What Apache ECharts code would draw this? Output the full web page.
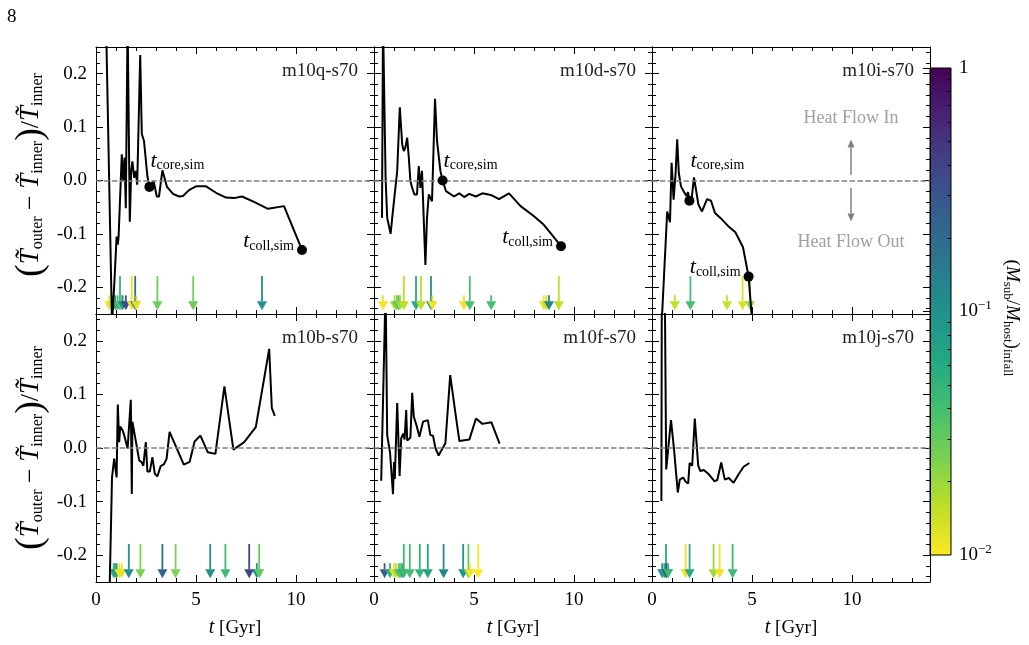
<!DOCTYPE html>
<html>
<head>
<meta charset="utf-8">
<script src="https://cdn.jsdelivr.net/npm/echarts@6.0.0/dist/echarts.min.js"></script>
<style>
  html, body { margin: 0; padding: 0; background: #fff; }
  #chart { width: 1029px; height: 645px; }
</style>
</head>
<body>
<div id="chart"></div>
<script>
// ---- data ----
// (T_outer - T_inner)/T_inner vs time [Gyr] for each halo
const m10qT = [0.50, 0.80, 0.92, 1.03, 1.09, 1.13, 1.29, 1.36, 1.43, 1.49, 1.58, 1.63, 1.69, 1.76, 1.82, 1.91, 1.99, 2.06, 2.21, 2.29, 2.40, 2.57, 2.67, 2.88, 3.04, 3.15, 3.32, 3.55, 3.85, 4.15, 4.35, 4.65, 5.00, 5.50, 6.00, 6.50, 6.90, 7.30, 7.90, 8.60, 9.40, 10.30];
const m10qY = [0.30, -0.27, -0.19, -0.105, -0.12, -0.105, 0.049, -0.001, 0.043, -0.052, 0.30, 0.30, -0.077, 0.018, 0.036, 0.005, 0.018, -0.008, 0.235, 0.087, 0.074, 0.008, -0.012, -0.001, -0.030, -0.030, 0.019, -0.012, -0.025, -0.030, -0.029, -0.018, -0.011, -0.011, -0.023, -0.032, -0.033, -0.030, -0.040, -0.053, -0.048, -0.130];
const m10dT = [0.40, 0.45, 0.58, 0.66, 0.83, 0.91, 1.00, 1.16, 1.29, 1.41, 1.49, 1.57, 1.66, 1.74, 1.82, 1.91, 2.02, 2.15, 2.24, 2.32, 2.40, 2.49, 2.57, 2.65, 2.74, 2.82, 2.90, 3.05, 3.15, 3.32, 3.43, 3.60, 4.00, 4.26, 4.51, 4.76, 5.09, 5.42, 5.84, 6.25, 6.75, 7.33, 8.00, 8.49, 8.90, 9.35];
const m10dY = [-0.07, 0.30, 0.005, -0.07, -0.10, -0.07, -0.07, 0.018, 0.137, 0.068, 0.055, 0.062, 0.08, 0.043, -0.001, -0.014, -0.026, -0.026, 0.027, -0.014, 0.018, 0.021, -0.158, -0.07, -0.026, -0.023, -0.039, 0.153, 0.074, 0.018, 0.0, -0.02, -0.03, -0.024, -0.031, -0.025, -0.030, -0.024, -0.027, -0.035, -0.024, -0.048, -0.067, -0.083, -0.102, -0.123];
const m10iT = [0.48, 0.76, 0.90, 0.98, 1.08, 1.18, 1.26, 1.34, 1.45, 1.58, 1.72, 1.80, 1.87, 1.98, 2.10, 2.18, 2.32, 2.50, 2.75, 2.95, 3.15, 3.42, 3.80, 4.17, 4.55, 4.83, 5.02];
const m10iY = [-0.27, -0.058, -0.078, 0.033, -0.036, 0.014, 0.077, 0.014, -0.011, -0.020, -0.029, -0.022, -0.038, -0.035, 0.006, 0.008, -0.045, -0.058, -0.035, -0.038, -0.061, -0.070, -0.085, -0.097, -0.125, -0.180, -0.27];
const m10bT = [0.66, 0.80, 0.91, 0.96, 1.03, 1.09, 1.16, 1.21, 1.33, 1.41, 1.49, 1.58, 1.66, 1.74, 1.79, 1.82, 1.91, 1.99, 2.16, 2.27, 2.37, 2.49, 2.57, 2.69, 2.82, 2.94, 3.07, 3.23, 3.40, 3.53, 3.68, 4.39, 4.68, 4.93, 5.22, 5.59, 5.97, 6.42, 6.87, 7.41, 7.99, 8.66, 8.79, 8.94];
const m10bY = [-0.30, -0.055, -0.020, -0.017, -0.055, 0.081, 0.011, 0.040, 0.033, 0.024, 0.021, -0.001, -0.004, 0.090, -0.086, 0.049, 0.030, 0.030, -0.023, -0.026, -0.033, 0.011, -0.044, -0.044, -0.017, -0.048, -0.053, -0.034, -0.030, -0.020, 0.030, -0.031, -0.026, 0.012, 0.023, -0.008, -0.011, 0.115, -0.003, 0.011, 0.039, 0.185, 0.075, 0.060];
const m10fT = [0.36, 0.46, 0.58, 0.66, 0.80, 0.95, 1.00, 1.04, 1.16, 1.28, 1.36, 1.46, 1.53, 1.61, 1.66, 1.74, 1.82, 1.91, 1.99, 2.12, 2.27, 2.45, 2.69, 2.82, 2.95, 3.07, 3.23, 3.57, 3.81, 4.06, 4.27, 4.77, 5.10, 5.42, 5.87, 6.28];
const m10fY = [-0.061, -0.058, 0.30, 0.024, -0.008, -0.086, -0.026, -0.058, 0.084, -0.052, 0.018, 0.027, 0.016, 0.071, 0.014, 0.016, 0.019, 0.103, 0.058, 0.043, 0.021, 0.049, 0.052, 0.024, 0.023, 0.000, -0.014, 0.009, 0.136, 0.068, 0.013, 0.016, 0.055, 0.045, 0.048, 0.008];
const m10jT = [0.47, 0.49, 0.64, 0.71, 0.95, 1.10, 1.29, 1.39, 1.56, 1.68, 1.81, 1.88, 2.01, 2.14, 2.31, 2.42, 2.59, 2.84, 3.12, 3.26, 3.46, 3.64, 3.84, 4.08, 4.33, 4.58, 4.87];
const m10jY = [-0.099, 0.30, 0.30, -0.040, 0.052, -0.002, -0.083, -0.059, -0.055, -0.063, -0.066, -0.028, -0.033, 0.055, -0.033, -0.043, -0.041, -0.049, -0.062, -0.060, -0.027, -0.059, -0.056, -0.065, -0.049, -0.035, -0.028];

// core formation / core collapse times [t, y]
const m10qCore = [2.67, -0.012], m10qColl = [10.30, -0.130];
const m10dCore = [3.43, 0.000], m10dColl = [9.35, -0.123];
const m10iCore = [1.87, -0.038], m10iColl = [4.83, -0.180];

// subhalo infall: time, (M_sub/M_host)_infall, long arrow flag
const m10qInT = [0.66, 0.83, 0.96, 1.08, 1.20, 1.25, 1.33, 1.49, 1.79, 1.96, 2.02, 3.07, 4.86, 8.30];
const m10qInM = [0.011, 0.012, 0.07, 0.045, 0.05, 0.028, 0.1, 0.35, 0.011, 0.2, 0.012, 0.028, 0.028, 0.1];
const m10qInL = [0, 0, 0, 0, 1, 0, 0, 0, 1, 1, 0, 1, 1, 1];
const m10dInT = [0.45, 1.03, 1.13, 1.22, 1.30, 1.49, 2.10, 2.35, 2.85, 2.92, 4.50, 4.79, 5.86, 8.49, 8.62, 8.75, 9.24];
const m10dInM = [0.011, 0.016, 0.025, 0.04, 0.02, 0.016, 0.06, 0.016, 0.1, 0.011, 0.011, 0.04, 0.04, 0.011, 0.014, 0.12, 0.016];
const m10dInL = [0, 0, 0, 0, 0, 1, 1, 1, 1, 0, 0, 1, 0, 0, 0, 0, 1];
const m10iInT = [1.14, 1.92, 3.75, 4.53, 4.90];
const m10iInM = [0.016, 0.04, 0.015, 0.013, 0.02];
const m10iInL = [0, 1, 0, 1, 1];
const m10bInT = [0.88, 0.95, 1.03, 1.16, 1.28, 1.64, 2.22, 3.32, 3.98, 5.71, 6.47, 7.66, 8.04, 8.16];
const m10bInM = [0.04, 0.06, 0.09, 0.011, 0.012, 0.1, 0.025, 0.22, 0.025, 0.1, 0.045, 0.4, 0.1, 0.03];
const m10bInL = [0, 0, 0, 0, 0, 1, 1, 1, 1, 1, 1, 1, 0, 1];
const m10fInT = [0.53, 0.80, 1.00, 1.10, 1.25, 1.33, 1.41, 1.49, 1.79, 2.29, 2.69, 3.48, 4.46, 4.72, 4.79, 5.21];
const m10fInM = [0.25, 0.05, 0.011, 0.016, 0.04, 0.03, 0.06, 0.045, 0.04, 0.05, 0.07, 0.12, 0.1, 0.03, 0.011, 0.01];
const m10fInL = [0, 0, 0, 0, 0, 0, 0, 1, 1, 1, 1, 1, 1, 1, 0, 1];
const m10jInT = [0.51, 0.62, 0.70, 0.73, 0.81, 1.68, 1.88, 3.08, 3.38, 4.03];
const m10jInM = [0.1, 0.07, 0.06, 0.35, 0.045, 0.011, 0.06, 0.02, 0.011, 0.045];
const m10jInL = [0, 0, 1, 0, 0, 1, 1, 1, 1, 1];

// heat flow annotation (m10i panel)
const heatArrows = [[9.95, 0.011, 0.077], [9.95, -0.014, -0.077]];
const heatLabelPos = [[9.95, 0.117], [9.95, -0.115]];
const heatLabelText = ['Heat Flow In', 'Heat Flow Out'];

// ticks
const xMajor = [0, 5, 10];
const xMinor = [1, 2, 3, 4, 6, 7, 8, 9, 11, 12, 13];
const yMajor = [-0.2, -0.1, 0, 0.1, 0.2];
const yMinor = [-0.24, -0.22, -0.18, -0.16, -0.14, -0.12, -0.08, -0.06, -0.04, -0.02, 0.02, 0.04, 0.06, 0.08, 0.12, 0.14, 0.16, 0.18, 0.22, 0.24];
const cbMajor = [-2, -1, 0];
const cbMinorMult = [2, 3, 4, 5, 6, 7, 8, 9];
const cbMinorDecades = [0.01, 0.1];

const panels = [
  { name: 'm10q-s70', t: m10qT, y: m10qY, core: m10qCore, coll: m10qColl, inT: m10qInT, inM: m10qInM, inL: m10qInL },
  { name: 'm10d-s70', t: m10dT, y: m10dY, core: m10dCore, coll: m10dColl, inT: m10dInT, inM: m10dInM, inL: m10dInL },
  { name: 'm10i-s70', t: m10iT, y: m10iY, core: m10iCore, coll: m10iColl, inT: m10iInT, inM: m10iInM, inL: m10iInL },
  { name: 'm10b-s70', t: m10bT, y: m10bY, core: null, coll: null, inT: m10bInT, inM: m10bInM, inL: m10bInL },
  { name: 'm10f-s70', t: m10fT, y: m10fY, core: null, coll: null, inT: m10fInT, inM: m10fInM, inL: m10fInL },
  { name: 'm10j-s70', t: m10jT, y: m10jY, core: null, coll: null, inT: m10jInT, inM: m10jInM, inL: m10jInL }
];

// ---- layout / style ----
const FONT = '"Liberation Serif", "DejaVu Serif", serif';
const colLeft = [96, 374, 652];
const rowTop = [47, 314];
const panelW = 278;
const panelH = [267, 268];
const xMax = 13.9;
const viridis = ['#440154', '#482475', '#414487', '#355f8d', '#2a788e', '#21918c', '#22a884', '#44bf70', '#7ad151', '#bddf26', '#fde725'];

const chart = echarts.init(document.getElementById('chart'));

const grids = [], xAxes = [], yAxes = [], series = [], graphics = [];
const arrowSeriesIdx = [];

function tickAxis(base, pos, vals, len, lineShow) {
  return Object.assign({
    type: 'value',
    position: pos,
    axisLine: { show: lineShow, onZero: false, lineStyle: { color: '#000', width: 1 } },
    axisTick: { show: true, inside: true, length: len, customValues: vals, lineStyle: { color: '#000', width: 1 } },
    axisLabel: { show: false },
    splitLine: { show: false },
    z: 4
  }, base);
}

// arrow: vertical line from y0 to head base, filled triangle to tip
function arrowShape(top, tip, color, halfW, headLen, lw) {
  const dir = tip[1] > top[1] ? 1 : -1;
  const baseY = tip[1] - dir * headLen;
  return [
    { type: 'line', shape: { x1: top[0], y1: top[1], x2: tip[0], y2: baseY }, style: { stroke: color, lineWidth: lw } },
    { type: 'polygon', shape: { points: [[tip[0] - halfW, baseY], [tip[0] + halfW, baseY], [tip[0], tip[1]]] }, style: { fill: color } }
  ];
}

const subRich = {
  t: { fontFamily: FONT, fontStyle: 'italic', fontSize: 22, lineHeight: 24 },
  s: { fontFamily: FONT, fontSize: 14, lineHeight: 14, verticalAlign: 'bottom' }
};

panels.forEach((p, i) => {
  const row = Math.floor(i / 3), col = i % 3;
  grids.push({ left: colLeft[col], top: rowTop[row], width: panelW, height: panelH[row], containLabel: false, outerBoundsMode: 'none' });

  const xi = xAxes.length;
  const xBase = { gridIndex: i, min: 0, max: xMax };
  const xMain = tickAxis(xBase, 'bottom', xMajor, 7, true);
  if (row === 1) {
    xMain.axisLabel = { show: true, customValues: xMajor, margin: 9, fontFamily: FONT, fontSize: 19, color: '#000' };
    xMain.name = '{i|t} [Gyr]';
    xMain.nameLocation = 'middle';
    xMain.nameGap = 36;
    xMain.nameTextStyle = { fontFamily: FONT, fontSize: 19, color: '#000', rich: { i: { fontFamily: FONT, fontStyle: 'italic', fontSize: 20 } } };
  }
  xAxes.push(xMain);
  xAxes.push(tickAxis(xBase, 'bottom', xMinor, 4, false));
  xAxes.push(tickAxis(xBase, 'top', xMajor, 7, true));
  xAxes.push(tickAxis(xBase, 'top', xMinor, 4, false));

  const yi = yAxes.length;
  const yBase = { gridIndex: i, min: -0.25, max: 0.25 };
  const yMain = tickAxis(yBase, 'left', yMajor, 7, true);
  if (col === 0) {
    yMain.axisLabel = { show: true, customValues: yMajor, margin: 9, fontFamily: FONT, fontSize: 19, color: '#000',
      formatter: v => v.toFixed(1) };
  }
  yAxes.push(yMain);
  yAxes.push(tickAxis(yBase, 'left', yMinor, 4, false));
  yAxes.push(tickAxis(yBase, 'right', yMajor, 7, true));
  yAxes.push(tickAxis(yBase, 'right', yMinor, 4, false));

  // ratio curve + zero line
  series.push({
    type: 'line', xAxisIndex: xi, yAxisIndex: yi,
    data: p.t.map((t, k) => [t, p.y[k]]),
    showSymbol: false, symbol: 'none', clip: true, z: 3,
    lineStyle: { color: '#000', width: 2 },
    markLine: {
      silent: true, symbol: ['none', 'none'], label: { show: false },
      lineStyle: { color: '#808080', type: [5.5, 2.4], width: 1.5 },
      data: [{ yAxis: 0 }]
    }
  });

  // infall arrows, coloured by mass ratio through the visualMap
  arrowSeriesIdx.push(series.length);
  series.push({
    type: 'custom', xAxisIndex: xi, yAxisIndex: yi, silent: true, z: 2,
    encode: { x: 0, y: 1 },
    data: p.inT.map((t, k) => [t, p.inL[k], Math.log10(p.inM[k])]),
    renderItem: (params, api) => {
      const x = api.value(0);
      const top = api.coord([x, api.value(1) ? -0.179 : -0.215]);
      const tip = api.coord([x, -0.243]);
      return { type: 'group', children: arrowShape(top, tip, api.visual('color'), 5, 9, 1.8) };
    }
  });

  if (p.core) {
    series.push({
      type: 'scatter', xAxisIndex: xi, yAxisIndex: yi, z: 5, silent: true,
      symbol: 'circle', symbolSize: 10, itemStyle: { color: '#000', opacity: 1 },
      data: [p.core, p.coll]
    });
    // labels: core label sits at a fixed height above the zero line
    series.push({
      type: 'custom', xAxisIndex: xi, yAxisIndex: yi, z: 6, silent: true,
      encode: { x: 0, y: 1 },
      data: [[p.core[0], 0.037, 0], [p.coll[0], p.coll[1], 1]],
      renderItem: (params, api) => {
        const pt = api.coord([api.value(0), api.value(1)]);
        const isColl = api.value(2) === 1;
        return {
          type: 'text',
          x: isColl ? pt[0] - 8 : pt[0] + 1,
          y: isColl ? pt[1] - 9 : pt[1],
          style: {
            text: isColl ? '{t|t}{s|coll,sim}' : '{t|t}{s|core,sim}',
            rich: subRich, fill: '#000',
            align: isColl ? 'right' : 'left', verticalAlign: 'middle'
          }
        };
      }
    });
  }

  if (i === 2) {
    series.push({
      type: 'custom', xAxisIndex: xi, yAxisIndex: yi, z: 6, silent: true,
      encode: { x: 0, y: 1 },
      data: heatArrows,
      renderItem: (params, api) => {
        const a = api.coord([api.value(0), api.value(1)]);
        const b = api.coord([api.value(0), api.value(2)]);
        return { type: 'group', children: arrowShape(a, b, '#808080', 3.5, 8, 1.5) };
      }
    });
    series.push({
      type: 'custom', xAxisIndex: xi, yAxisIndex: yi, z: 6, silent: true,
      encode: { x: 0, y: 1 },
      data: heatLabelPos,
      renderItem: (params, api) => {
        const pt = api.coord([api.value(0), api.value(1)]);
        return {
          type: 'text', x: pt[0], y: pt[1],
          style: { text: heatLabelText[params.dataIndex], fill: '#a0a0a0', fontFamily: FONT, fontSize: 18, align: 'center', verticalAlign: 'middle' }
        };
      }
    });
  }

  graphics.push({
    type: 'text', x: colLeft[col] + panelW - 16, y: rowTop[row] + 24, z: 10,
    style: { text: p.name, fill: '#222', fontFamily: FONT, fontSize: 19, align: 'right', verticalAlign: 'middle' }
  });
});

// ---- colorbar ----
const cbGrid = grids.length;
grids.push({ left: 930, top: 68, width: 21, height: 487, containLabel: false, outerBoundsMode: 'none' });
const cbX = xAxes.length;
xAxes.push({ gridIndex: cbGrid, type: 'value', min: 0, max: 1, show: false });
const cbY = yAxes.length;
const cbMinor = [];
cbMinorDecades.forEach(d => cbMinorMult.forEach(k => cbMinor.push(Math.log10(k * d))));
yAxes.push({
  gridIndex: cbGrid, type: 'value', min: -2, max: 0, position: 'right', z: 5,
  axisLine: { show: false },
  axisTick: { show: true, inside: true, length: 7, customValues: cbMajor, lineStyle: { color: '#000', width: 1 } },
  axisLabel: {
    show: true, customValues: cbMajor, margin: 8, fontFamily: FONT, fontSize: 19, color: '#000', lineHeight: 24,
    formatter: v => v === 0 ? '1' : '10{sup|\u2212' + Math.abs(v) + '}',
    rich: { sup: { fontFamily: FONT, fontSize: 13, lineHeight: 13, verticalAlign: 'top' } }
  },
  splitLine: { show: false }
});
yAxes.push({
  gridIndex: cbGrid, type: 'value', min: -2, max: 0, position: 'right', z: 5,
  axisLine: { show: false },
  axisTick: { show: true, inside: true, length: 3.5, customValues: cbMinor, lineStyle: { color: '#000', width: 1 } },
  axisLabel: { show: false },
  splitLine: { show: false }
});
series.push({
  type: 'custom', xAxisIndex: cbX, yAxisIndex: cbY, silent: true, z: 1,
  data: [[0, 0]],
  renderItem: (params, api) => {
    const a = api.coord([0, 0]);
    const b = api.coord([1, -2]);
    return {
      type: 'rect',
      shape: { x: a[0], y: a[1], width: b[0] - a[0], height: b[1] - a[1] },
      style: {
        fill: new echarts.graphic.LinearGradient(0, 0, 0, 1, viridis.map((c, k) => ({ offset: k / (viridis.length - 1), color: c }))),
        stroke: '#000', lineWidth: 1
      }
    };
  }
});

// ---- free text ----
const yLabelRich = {
  p: { fontFamily: FONT, fontSize: 38, lineHeight: 30 },
  T: { fontFamily: FONT, fontStyle: 'italic', fontSize: 27, lineHeight: 30 },
  m: { fontFamily: FONT, fontSize: 26, lineHeight: 30 },
  s: { fontFamily: FONT, fontSize: 16, lineHeight: 16, verticalAlign: 'bottom' }
};
const yLabelText = '{p|(}{T|T\u0303}{s|outer}{m| \u2212 }{T|T\u0303}{s|inner}{p|)}{m|/}{T|T\u0303}{s|inner}';
[175, 448].forEach(cy => {
  graphics.push({
    type: 'text', x: 31, y: cy, rotation: Math.PI / 2,
    style: { text: yLabelText, rich: yLabelRich, fill: '#000', align: 'center', verticalAlign: 'middle' }
  });
});
graphics.push({
  type: 'text', x: 1012, y: 318, rotation: -Math.PI / 2,
  style: {
    text: '{r|(}{M|M}{s|sub}{r|/}{M|M}{s|host}{r|)}{s|infall}',
    rich: {
      r: { fontFamily: FONT, fontSize: 19, lineHeight: 22 },
      M: { fontFamily: FONT, fontStyle: 'italic', fontSize: 19, lineHeight: 22 },
      s: { fontFamily: FONT, fontSize: 13, lineHeight: 13, verticalAlign: 'bottom' }
    },
    fill: '#000', align: 'center', verticalAlign: 'middle'
  }
});
graphics.push({
  type: 'text', x: 7, y: 17,
  style: { text: '8', fill: '#000', fontFamily: FONT, fontSize: 19, align: 'left', verticalAlign: 'middle' }
});

chart.setOption({
  animation: false,
  backgroundColor: '#fff',
  grid: grids,
  xAxis: xAxes,
  yAxis: yAxes,
  visualMap: [{
    type: 'continuous', show: false, min: -2, max: 0, dimension: 2,
    seriesIndex: arrowSeriesIdx,
    inRange: { color: viridis.slice().reverse() }
  }],
  graphic: graphics,
  series: series
});
</script>
</body>
</html>
